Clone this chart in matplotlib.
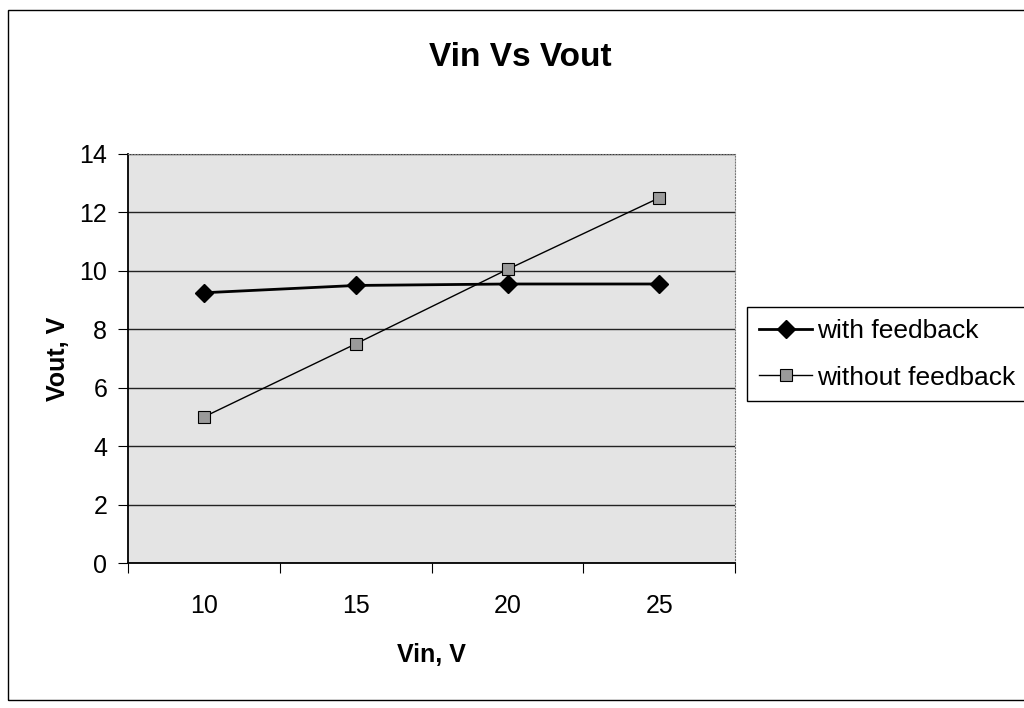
import matplotlib
matplotlib.use("Agg")
import matplotlib.pyplot as plt
from matplotlib.patches import Rectangle

plt.rcParams['font.family'] = ['Liberation Sans', 'DejaVu Sans']

vin = ['10', '15', '20', '25']  # categories on x axis
with_fb = [9.25, 9.5, 9.55, 9.55]  # Vout with feedback
without_fb = [5.0, 7.5, 10.05, 12.5]  # Vout without feedback
yticks = [0, 2, 4, 6, 8, 10, 12, 14]

fig = plt.figure(figsize=(10.24, 7.08), dpi=100)
ax = fig.add_axes([0.125, 0.2048, 0.593, 0.5777])

# outer chart frame
fig.patches.append(Rectangle((0.008, 0.012), 1.2, 0.974, transform=fig.transFigure,
                             fill=False, edgecolor='black', linewidth=1))

ax.set_facecolor('#e4e4e4')
x = list(range(len(vin)))
ax.plot(x, with_fb, color='black', linewidth=2, marker='D', markersize=9,
        markerfacecolor='black', markeredgecolor='black', label='with feedback')
ax.plot(x, without_fb, color='black', linewidth=1, marker='s', markersize=8,
        markerfacecolor='#9a9a9a', markeredgecolor='black', markeredgewidth=0.8,
        label='without feedback')

ax.set_xlim(-0.5, 3.5)
ax.set_ylim(0, 14)
ax.set_yticks(yticks)
ax.yaxis.grid(True, color='#222222', linewidth=1)
ax.set_axisbelow(True)

# category labels centered, tick marks between categories
ax.set_xticks([-0.5, 0.5, 1.5, 2.5, 3.5])
ax.set_xticklabels([])
ax.set_xticks(x, minor=True)
ax.set_xticklabels(vin, minor=True)
ax.tick_params(axis='x', which='minor', length=0, pad=22, labelsize=18)
ax.tick_params(axis='x', which='major', length=7, direction='out')
ax.tick_params(axis='y', length=7, direction='out', labelsize=18, pad=8)

ax.spines['left'].set_linewidth(1.3)
ax.spines['bottom'].set_linewidth(1.3)
for s in ['top', 'right']:
    ax.spines[s].set_color('#777777')
    ax.spines[s].set_linestyle(':')

# title is centred on the whole chart area, like Excel does
fig.text(520 / 1024, 1 - 57 / 708, 'Vin Vs Vout', fontsize=24, fontweight='bold',
         ha='center', va='center')
ax.set_xlabel('Vin, V', fontsize=18, fontweight='bold', labelpad=18)
ax.set_ylabel('Vout, V', fontsize=18, fontweight='bold', labelpad=7)

leg = ax.legend(loc='center left', bbox_to_anchor=(1.02, 0.51), fontsize=19,
                frameon=True, fancybox=False, edgecolor='black', framealpha=1,
                borderaxespad=0, handlelength=2.0, handletextpad=0.2,
                borderpad=0.45, labelspacing=0.85)
leg.get_frame().set_linewidth(1)

fig.savefig('out.png', dpi=100)
